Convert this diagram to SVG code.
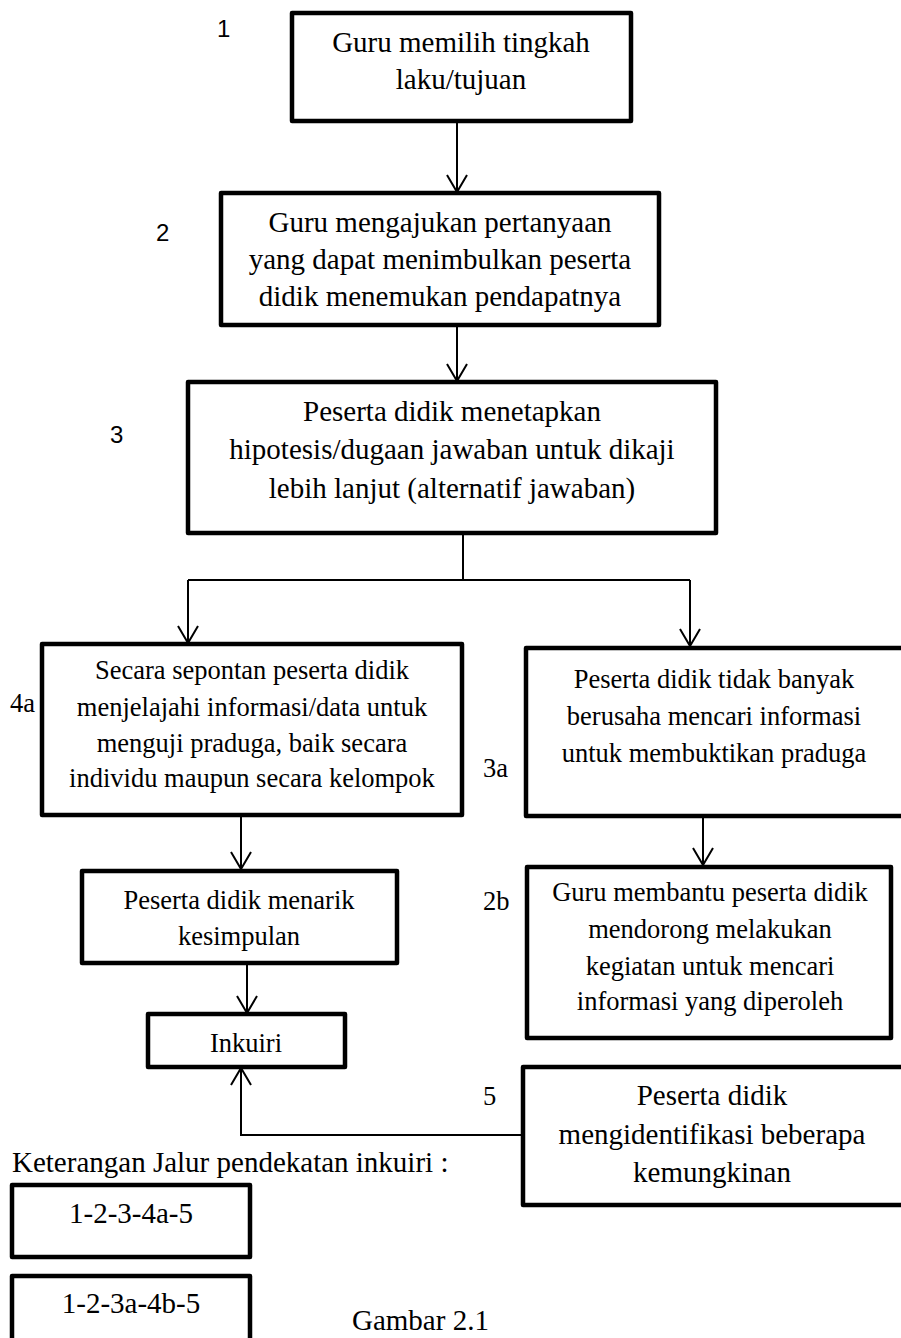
<svg xmlns="http://www.w3.org/2000/svg" width="901" height="1338" viewBox="0 0 901 1338">
<style>
.box{fill:#fff;stroke:#000;stroke-width:4.5;stroke-linejoin:round}
.t{font-family:"Liberation Serif","Times New Roman",serif;fill:#000;text-anchor:middle}
.big{font-size:29px}
.mid{font-size:26.5px}
.lbl{font-family:"Liberation Serif","Times New Roman",serif;font-size:26.5px;fill:#000}
.num{font-family:"Liberation Sans",Arial,sans-serif;font-size:24px;fill:#000}
.c{fill:none;stroke:#000;stroke-width:2}
</style>
<defs>
<marker id="ah" viewBox="-20 -12 22 24" markerWidth="22" markerHeight="24" refX="0" refY="0" orient="auto" markerUnits="userSpaceOnUse">
<path d="M -17 -10 L 0 0 L -17 10" fill="none" stroke="#000" stroke-width="2"/>
</marker>
</defs>
<rect width="901" height="1338" fill="#fff"/>
<g id="connectors">
<line class="c" x1="457" y1="121" x2="457" y2="192" marker-end="url(#ah)"/>
<line class="c" x1="457" y1="325" x2="457" y2="381" marker-end="url(#ah)"/>
<polyline class="c" points="463,533 463,580"/>
<polyline class="c" points="188,580 690,580"/>
<line class="c" x1="188" y1="580" x2="188" y2="643" marker-end="url(#ah)"/>
<line class="c" x1="690" y1="580" x2="690" y2="646" marker-end="url(#ah)"/>
<line class="c" x1="241" y1="815" x2="241" y2="869" marker-end="url(#ah)"/>
<line class="c" x1="703" y1="812" x2="703" y2="865" marker-end="url(#ah)"/>
<line class="c" x1="247" y1="957" x2="247" y2="1013" marker-end="url(#ah)"/>
<polyline class="c" points="523,1135 241,1135 241,1068" marker-end="url(#ah)"/>
</g>
<g id="node1">
<rect class="box" x="292" y="13" width="339" height="108"/>
<text class="t big" x="461" y="52">Guru memilih tingkah</text>
<text class="t big" x="461" y="89">laku/tujuan</text>
</g>
<g id="node2">
<rect class="box" x="221" y="193" width="438" height="132"/>
<text class="t big" x="440" y="232">Guru mengajukan pertanyaan</text>
<text class="t big" x="440" y="269">yang dapat menimbulkan peserta</text>
<text class="t big" x="440" y="306">didik menemukan pendapatnya</text>
</g>
<g id="node3">
<rect class="box" x="188" y="382" width="528" height="151"/>
<text class="t big" x="452" y="421">Peserta didik menetapkan</text>
<text class="t big" x="452" y="459">hipotesis/dugaan jawaban untuk dikaji</text>
<text class="t big" x="452" y="498">lebih lanjut (alternatif jawaban)</text>
</g>
<g id="node4a">
<rect class="box" x="42" y="644" width="420" height="171"/>
<text class="t mid" x="252" y="679">Secara sepontan peserta didik</text>
<text class="t mid" x="252" y="716">menjelajahi informasi/data untuk</text>
<text class="t mid" x="252" y="752">menguji praduga, baik secara</text>
<text class="t mid" x="252" y="787">individu maupun secara kelompok</text>
</g>
<g id="node3a">
<rect class="box" x="526" y="648" width="378" height="168"/>
<text class="t mid" x="714" y="688">Peserta didik tidak banyak</text>
<text class="t mid" x="714" y="725">berusaha mencari informasi</text>
<text class="t mid" x="714" y="762">untuk membuktikan praduga</text>
</g>
<g id="nodeKesimpulan">
<rect class="box" x="82" y="871" width="315" height="92"/>
<text class="t mid" x="239" y="909">Peserta didik menarik</text>
<text class="t mid" x="239" y="945">kesimpulan</text>
</g>
<g id="node2b">
<rect class="box" x="527" y="867" width="364" height="171"/>
<text class="t mid" x="710" y="901">Guru membantu peserta didik</text>
<text class="t mid" x="710" y="938">mendorong melakukan</text>
<text class="t mid" x="710" y="975">kegiatan untuk mencari</text>
<text class="t mid" x="710" y="1010">informasi yang diperoleh</text>
</g>
<g id="nodeInkuiri">
<rect class="box" x="148" y="1014" width="197" height="53"/>
<text class="t mid" x="246" y="1052">Inkuiri</text>
</g>
<g id="node5">
<rect class="box" x="523" y="1067" width="381" height="138"/>
<text class="t big" x="712" y="1105">Peserta didik</text>
<text class="t big" x="712" y="1144">mengidentifikasi beberapa</text>
<text class="t big" x="712" y="1182">kemungkinan</text>
</g>
<g id="labels">
<text class="num" x="217" y="37">1</text>
<text class="num" x="156" y="241">2</text>
<text class="num" x="110" y="443">3</text>
<text class="lbl" x="10" y="712">4a</text>
<text class="lbl" x="483" y="777">3a</text>
<text class="lbl" x="483" y="910">2b</text>
<text class="lbl" x="483" y="1105">5</text>
</g>
<g id="legend">
<text class="lbl" x="12" y="1172" style="font-size:29px">Keterangan Jalur pendekatan inkuiri :</text>
<g id="legend1">
<rect class="box" x="12" y="1185" width="238" height="72"/>
<text class="t big" x="131" y="1223">1-2-3-4a-5</text>
</g>
<g id="legend2">
<rect class="box" x="12" y="1276" width="238" height="80"/>
<text class="t big" x="131" y="1313">1-2-3a-4b-5</text>
</g>
<text class="lbl" x="352" y="1330" style="font-size:29px">Gambar 2.1</text>
</g>
</svg>
